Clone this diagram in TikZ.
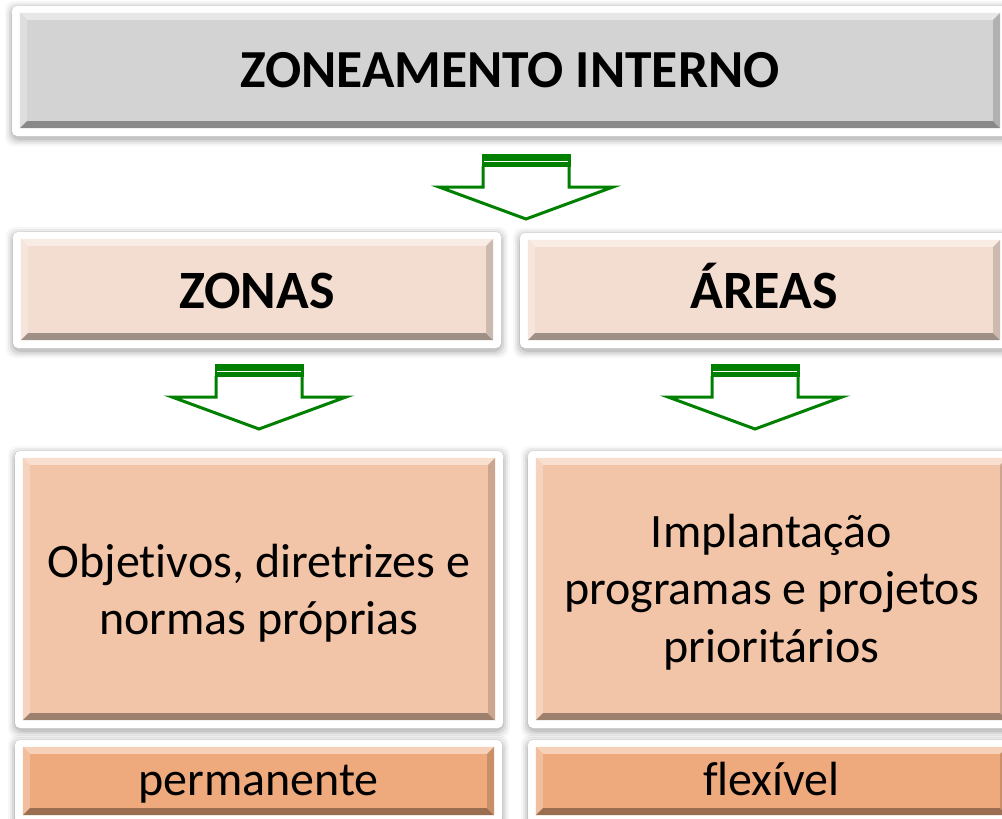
\documentclass[tikz,border=0pt]{standalone}
\usepackage{fontspec}
\setmainfont[Ligatures=NoCommon]{Carlito}
\usetikzlibrary{calc}
\definecolor{cgray}{HTML}{D3D3D3}
\definecolor{cpale}{HTML}{F3DDD0}
\definecolor{cmid}{HTML}{F2C5A8}
\definecolor{cdeep}{HTML}{EEAA7D}
\definecolor{cgreen}{HTML}{008000}
\tikzset{
  boxnode/.style={inner sep=0pt, draw=none},
  titletext/.style={font=\fontsize{53.5}{64}\selectfont\bfseries, text=black, anchor=base, inner sep=0pt},
  headtext/.style={font=\fontsize{54}{64}\selectfont\bfseries, text=black, anchor=base, inner sep=0pt},
  bodytext/.style={font=\fontsize{48}{57.5}\selectfont, text=black, align=center},
  basetext/.style={font=\fontsize{48}{57.5}\selectfont, text=black, anchor=base, inner sep=0pt},
  arrowline/.style={draw=cgreen, line width=3pt, fill=white, line join=miter},
}
% #1 name, #2 x1, #3 y1, #4 x2, #5 y2, #6 colour
\newcommand\zpanel[6]{%
  \foreach \s/\o in {7/0.03,5/0.05,3/0.07,1/0.09}{%
    \fill[black, opacity=\o, rounded corners=9pt] (#2-8-\s,#3-8-\s+3) rectangle (#4+8+\s,#5+8+\s+3);}
  \fill[white, rounded corners=5pt] (#2-8,#3-7) rectangle (#4+8,#5+8);
  \node[boxnode, fill=#6, minimum width={(#4-#2)*1pt}, minimum height={(#5-#3)*1pt}] (#1) at ({(#2+#4)/2},{(#3+#5)/2}) {};
  \fill[#6!55!white] (#1.north west) -- (#1.north east) -- ([shift={(-7,7)}]#1.north east) -- ([shift={(7,7)}]#1.north west) -- cycle;
  \fill[#6!75!white] (#1.north west) -- ([shift={(7,7)}]#1.north west) -- ([shift={(7,-7)}]#1.south west) -- (#1.south west) -- cycle;
  \fill[#6!65!black] (#1.south west) -- ([shift={(7,-7)}]#1.south west) -- ([shift={(-7,-7)}]#1.south east) -- (#1.south east) -- cycle;
  \fill[#6!84!black] (#1.north east) -- (#1.south east) -- ([shift={(-7,-7)}]#1.south east) -- ([shift={(-7,7)}]#1.north east) -- cycle;
}
% #1 centre x, #2 top y
\newcommand\garrow[2]{%
  \draw[arrowline] (#1-43,#2+12) -- (#1-43,#2+33) -- (#1-87,#2+33) -- (#1,#2+65) -- (#1+87,#2+33) -- (#1+43,#2+33) -- (#1+43,#2+12);
  \fill[cgreen] (#1-44.5,#2) rectangle (#1+44.5,#2+13);
  \draw[white, line width=1.6pt] (#1-42,#2+7.5) -- (#1+42,#2+7.5);
}
\begin{document}
\begin{tikzpicture}[x=1pt,y=-1pt]
\useasboundingbox (0,0) rectangle (1002,819);
\clip (0,0) rectangle (1002,819);
\fill[white] (0,0) rectangle (1002,819);

\zpanel{top}{20}{13}{1000}{128}{cgray}
\zpanel{zonas}{21}{239}{493}{340}{cpale}
\zpanel{areas}{528}{240}{1000}{340}{cpale}
\zpanel{zobj}{23}{458}{495}{720}{cmid}
\zpanel{aobj}{536}{458}{1007}{720}{cmid}
\zpanel{zperm}{23}{747}{494}{815}{cdeep}
\zpanel{aflex}{536}{747}{1007}{815}{cdeep}

\node[titletext] (toptext) at (top |- 0,87) {ZONEAMENTO INTERNO};
\node[headtext] (zonastext) at (zonas |- 0,308) {ZONAS};
\node[headtext] (areastext) at (areas |- 0,308) {ÁREAS};

\node[bodytext] (zobjtext) at ([shift={(0,4)}]zobj) {Objetivos, diretrizes e\\normas próprias};
\node[bodytext] (aobjtext) at ([shift={(0,3)}]aobj) {Implantação\\programas e projetos\\prioritários};
\node[basetext] (zpermtext) at (zperm |- 0,795) {permanente};
\node[basetext] (aflextext) at (aflex |- 0,795) {flexível};

\garrow{526}{154}
\garrow{259}{364}
\garrow{755}{364}
\end{tikzpicture}
\end{document}
